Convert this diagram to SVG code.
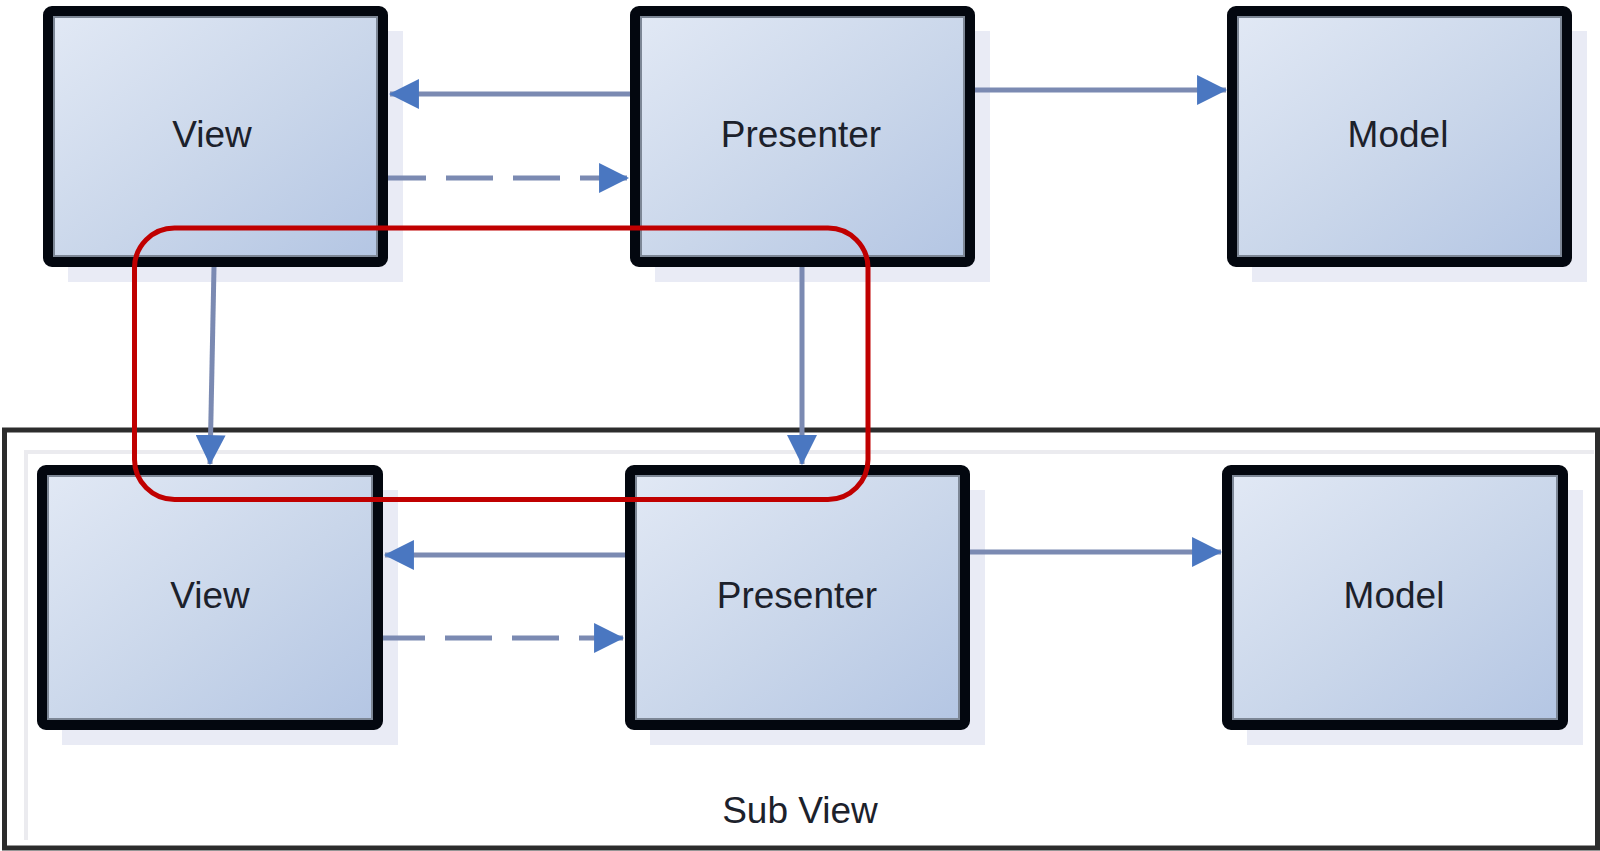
<svg xmlns="http://www.w3.org/2000/svg" width="1600" height="851" viewBox="0 0 1600 851">
  <defs>
    <linearGradient id="boxFill" x1="0" y1="0" x2="1" y2="1">
      <stop offset="0" stop-color="#e2e9f5"/>
      <stop offset="0.55" stop-color="#c9d6ea"/>
      <stop offset="1" stop-color="#b3c5e3"/>
    </linearGradient>
    <marker id="head" markerUnits="userSpaceOnUse" markerWidth="30" markerHeight="30" viewBox="0 0 28 28" refX="27" refY="14" orient="auto">
      <path d="M0,0 L28,14 L0,28 Z" fill="#4a77c1"/>
    </marker>
    <style>
      .shadow { fill: #e9ebf5; }
      .box { fill: url(#boxFill); stroke: #03070f; stroke-width: 10; }
      .inner { fill: none; stroke: #7d8796; stroke-width: 2; }
      .label { font-family: "Liberation Sans", Arial, sans-serif; font-size: 37px; fill: #1c212b; text-anchor: middle; }
      .conn { fill: none; stroke: #7b8ab2; stroke-width: 5; marker-end: url(#head); }
      .dash { stroke-dasharray: 47 20; }
    </style>
  </defs>

  <rect width="1600" height="851" fill="#ffffff"/>

  <!-- Sub View container -->
  <g id="subview">
    <rect x="4.5" y="430" width="1593" height="418" fill="none" stroke="#2c2c2c" stroke-width="5"/>
    <path d="M26,840 L26,452 L1594,452" fill="none" stroke="#ebebef" stroke-width="4"/>
    <text class="label" x="800" y="823" font-size="36">Sub View</text>
  </g>

  <!-- top row -->
  <g id="view-top">
    <rect class="shadow" x="68" y="31" width="335" height="251"/>
    <rect class="box" x="48" y="11" width="335" height="251" rx="4"/>
    <rect class="inner" x="54" y="17" width="323" height="239"/>
    <text class="label" x="212" y="147">View</text>
  </g>
  <g id="presenter-top">
    <rect class="shadow" x="655" y="31" width="335" height="251"/>
    <rect class="box" x="635" y="11" width="335" height="251" rx="4"/>
    <rect class="inner" x="641" y="17" width="323" height="239"/>
    <text class="label" x="801" y="147">Presenter</text>
  </g>
  <g id="model-top">
    <rect class="shadow" x="1252" y="31" width="335" height="251"/>
    <rect class="box" x="1232" y="11" width="335" height="251" rx="4"/>
    <rect class="inner" x="1238" y="17" width="323" height="239"/>
    <text class="label" x="1398" y="147">Model</text>
  </g>

  <!-- bottom row -->
  <g id="view-sub">
    <rect class="shadow" x="62" y="490" width="336" height="255"/>
    <rect class="box" x="42" y="470" width="336" height="255" rx="4"/>
    <rect class="inner" x="48" y="476" width="324" height="243"/>
    <text class="label" x="210" y="608">View</text>
  </g>
  <g id="presenter-sub">
    <rect class="shadow" x="650" y="490" width="335" height="255"/>
    <rect class="box" x="630" y="470" width="335" height="255" rx="4"/>
    <rect class="inner" x="636" y="476" width="323" height="243"/>
    <text class="label" x="797" y="608">Presenter</text>
  </g>
  <g id="model-sub">
    <rect class="shadow" x="1247" y="490" width="336" height="255"/>
    <rect class="box" x="1227" y="470" width="336" height="255" rx="4"/>
    <rect class="inner" x="1233" y="476" width="324" height="243"/>
    <text class="label" x="1394" y="608">Model</text>
  </g>

  <!-- connectors -->
  <g id="connectors">
    <line class="conn" x1="630" y1="94" x2="390" y2="94"/>
    <line class="conn dash" x1="388" y1="178" x2="628" y2="178" stroke-dashoffset="9"/>
    <line class="conn" x1="975" y1="90" x2="1226" y2="90"/>
    <line class="conn" x1="214" y1="267" x2="210" y2="464"/>
    <line class="conn" x1="802" y1="267" x2="802" y2="464"/>
    <line class="conn" x1="625" y1="555" x2="385" y2="555"/>
    <line class="conn dash" x1="383" y1="638" x2="623" y2="638" stroke-dashoffset="5"/>
    <line class="conn" x1="970" y1="552" x2="1221" y2="552"/>
  </g>

  <!-- highlight frame -->
  <g id="highlight">
    <rect x="134.5" y="228" width="733.5" height="271.5" rx="40" fill="none" stroke="#c00000" stroke-width="5"/>
  </g>
</svg>
